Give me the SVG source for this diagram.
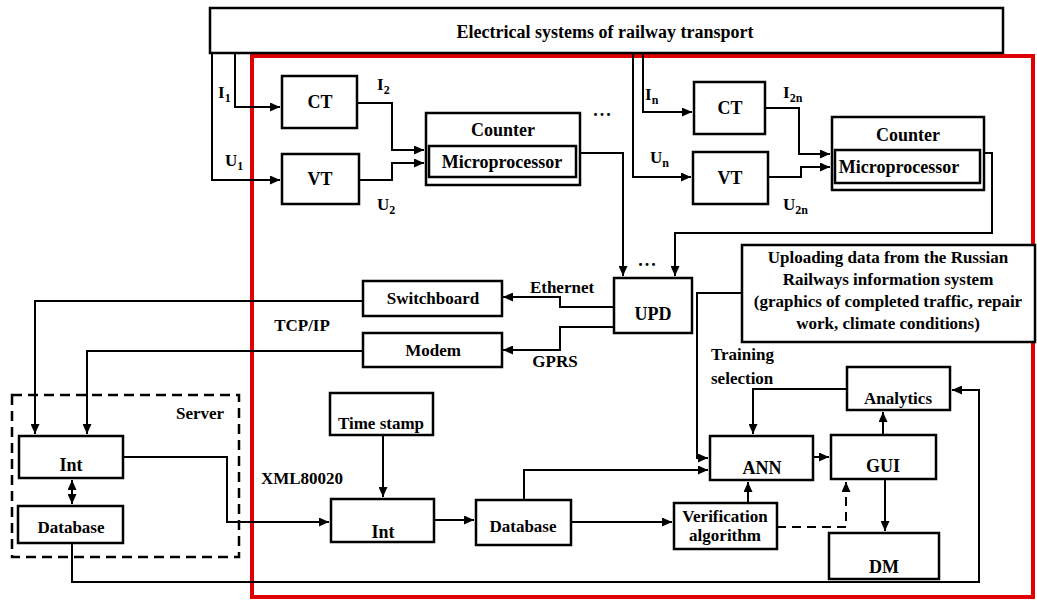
<svg xmlns="http://www.w3.org/2000/svg" width="1037" height="600" viewBox="0 0 1037 600">
<style>
  .box { fill: #fff; stroke: #000; stroke-width: 2.5; }
  .dash { fill: none; stroke: #000; stroke-width: 2.5; stroke-dasharray: 10 6; }
  .ln { fill: none; stroke: #000; stroke-width: 2; }
  .ar { marker-end: url(#ah); }
  .t { font-family: "Liberation Serif", "Times New Roman", serif; font-weight: bold; font-size: 17px; fill: #000; }
  .m { text-anchor: middle; }
  .s { font-size: 12px; }
  .big { font-size: 18px; }
  .dots { font-size: 18px; letter-spacing: 2px; }
</style>
<defs>
  <marker id="ah" markerUnits="userSpaceOnUse" markerWidth="10" markerHeight="9" refX="10" refY="4.5" orient="auto-start-reverse">
    <path d="M0,0 L10,4.5 L0,9 z" fill="#000"/>
  </marker>
</defs>
<rect width="1037" height="600" fill="#fff"/>

<g id="red-frame"><rect x="252" y="56" width="781" height="541" fill="none" stroke="#e00000" stroke-width="4"/></g>

<g id="connectors">
  <path class="ln ar" d="M235,53 V107 H280"/>
  <path class="ln ar" d="M212,53 V180 H280"/>
  <path class="ln ar" d="M357,103 H392 V150 H424"/>
  <path class="ln ar" d="M359,180 H392 V163 H424"/>
  <path class="ln ar" d="M643,53 V112 H692"/>
  <path class="ln ar" d="M633,53 V177 H691"/>
  <path class="ln ar" d="M765,108 H799 V154 H830"/>
  <path class="ln ar" d="M768,177 H801 V167 H830"/>
  <path class="ln ar" d="M580,153 H623 V276"/>
  <path class="ln ar" d="M984,153 H992 V233 H675 V276"/>
  <path class="ln ar" d="M614,307 H560 V297 H503"/>
  <path class="ln ar" d="M614,327 H560 V350 H503"/>
  <path class="ln ar" d="M363,301 H35 V434"/>
  <path class="ln ar" d="M363,351 H87 V434"/>
  <path class="ln" d="M72,480 V504" marker-start="url(#ah)" marker-end="url(#ah)"/>
  <path class="ln ar" d="M123,457 H227 V522 H329"/>
  <path class="ln ar" d="M383,435 V497"/>
  <path class="ln ar" d="M434,520 H474"/>
  <path class="ln ar" d="M524,500 V470 H708"/>
  <path class="ln ar" d="M571,522 H672"/>
  <path class="ln ar" d="M748,503 V482"/>
  <path class="ln ar" d="M777,527 H846 V482" stroke-dasharray="9 6"/>
  <path class="ln ar" d="M813,457 H829"/>
  <path class="ln ar" d="M883,435 V412"/>
  <path class="ln ar" d="M885,479 V531"/>
  <path class="ln ar" d="M847,389 H753 V434"/>
  <path class="ln ar" d="M742,293 H697 V458 H708"/>
  <path class="ln ar" d="M72,543 V582 H979 V390 H952"/>
</g>

<g id="source"><rect class="box" x="210" y="8" width="793" height="45"/><text class="t m big" x="605" y="38">Electrical systems of railway transport</text></g>

<g id="ct1"><rect class="box" x="282" y="76" width="75" height="52"/><text class="t m big" x="320" y="108">CT</text></g>
<g id="vt1"><rect class="box" x="282" y="154" width="77" height="50"/><text class="t m big" x="320" y="185">VT</text></g>
<g id="counter1"><rect class="box" x="426" y="113" width="154" height="72"/><text class="t m big" x="503" y="136">Counter</text>
  <rect class="box" x="429" y="146" width="147" height="31" stroke-width="3"/><text class="t m big" x="502" y="168">Microprocessor</text></g>
<g id="ct2"><rect class="box" x="694" y="82" width="71" height="52"/><text class="t m big" x="730" y="114">CT</text></g>
<g id="vt2"><rect class="box" x="693" y="152" width="75" height="52"/><text class="t m big" x="730" y="184">VT</text></g>
<g id="counter2"><rect class="box" x="832" y="117" width="152" height="73"/><text class="t m big" x="908" y="141">Counter</text>
  <rect class="box" x="835" y="150" width="145" height="33" stroke-width="3"/><text class="t m big" x="899" y="173">Microprocessor</text></g>

<g id="labels">
  <text class="t" x="218" y="98">I<tspan class="s" dy="4">1</tspan></text>
  <text class="t" x="225" y="166">U<tspan class="s" dy="4">1</tspan></text>
  <text class="t" x="377" y="90">I<tspan class="s" dy="4">2</tspan></text>
  <text class="t" x="377" y="210">U<tspan class="s" dy="4">2</tspan></text>
  <text class="t" x="645" y="100">I<tspan class="s" dy="4">n</tspan></text>
  <text class="t" x="650" y="163">U<tspan class="s" dy="4">n</tspan></text>
  <text class="t" x="783" y="98">I<tspan class="s" dy="4">2n</tspan></text>
  <text class="t" x="783" y="210">U<tspan class="s" dy="4">2n</tspan></text>
  <text class="t m dots" x="603" y="116">...</text>
  <text class="t m dots" x="648" y="266">...</text>
  <text class="t m" x="562" y="293">Ethernet</text>
  <text class="t m" x="555" y="367">GPRS</text>
  <text class="t m" x="302" y="331">TCP/IP</text>
  <text class="t m" x="302" y="484" font-size="15">XML80020</text>
  <text class="t" x="711" y="360">Training</text>
  <text class="t" x="711" y="384">selection</text>
</g>

<g id="upd"><rect class="box" x="614" y="278" width="78" height="55"/><text class="t m big" x="653" y="320">UPD</text></g>
<g id="switchboard"><rect class="box" x="363" y="281" width="139" height="35"/><text class="t m" x="433" y="304">Switchboard</text></g>
<g id="modem"><rect class="box" x="363" y="333" width="139" height="34"/><text class="t m" x="433" y="356">Modem</text></g>
<g id="uploading"><rect class="box" x="742" y="245" width="293" height="97"/>
  <text class="t m" x="888" y="263">Uploading data from the Russian</text>
  <text class="t m" x="888" y="285">Railways information system</text>
  <text class="t m" x="888" y="307">(graphics of completed traffic, repair</text>
  <text class="t m" x="888" y="329">work, climate conditions)</text></g>

<g id="server"><rect class="dash" x="12" y="395" width="227" height="162"/><text class="t m" x="200" y="419">Server</text></g>
<g id="server-int"><rect class="box" x="19" y="436" width="104" height="42"/><text class="t m big" x="71" y="471">Int</text></g>
<g id="server-db"><rect class="box" x="18" y="506" width="105" height="37"/><text class="t m" x="71" y="533">Database</text></g>

<g id="timestamp"><rect class="box" x="330" y="393" width="103" height="42"/><text class="t m" x="381" y="429">Time stamp</text></g>
<g id="int2"><rect class="box" x="331" y="499" width="103" height="43"/><text class="t m big" x="383" y="538">Int</text></g>
<g id="database2"><rect class="box" x="476" y="500" width="95" height="45"/><text class="t m" x="523" y="532">Database</text></g>
<g id="verification"><rect class="box" x="674" y="503" width="103" height="46"/><text class="t m" x="725" y="522">Verification</text><text class="t m" x="725" y="541">algorithm</text></g>
<g id="ann"><rect class="box" x="710" y="436" width="103" height="44"/><text class="t m big" x="762" y="474">ANN</text></g>
<g id="gui"><rect class="box" x="831" y="435" width="105" height="44"/><text class="t m big" x="883" y="472">GUI</text></g>
<g id="analytics"><rect class="box" x="847" y="367" width="103" height="43"/><text class="t m" x="898" y="404">Analytics</text></g>
<g id="dm"><rect class="box" x="829" y="533" width="110" height="46"/><text class="t m big" x="884" y="573">DM</text></g>
</svg>
